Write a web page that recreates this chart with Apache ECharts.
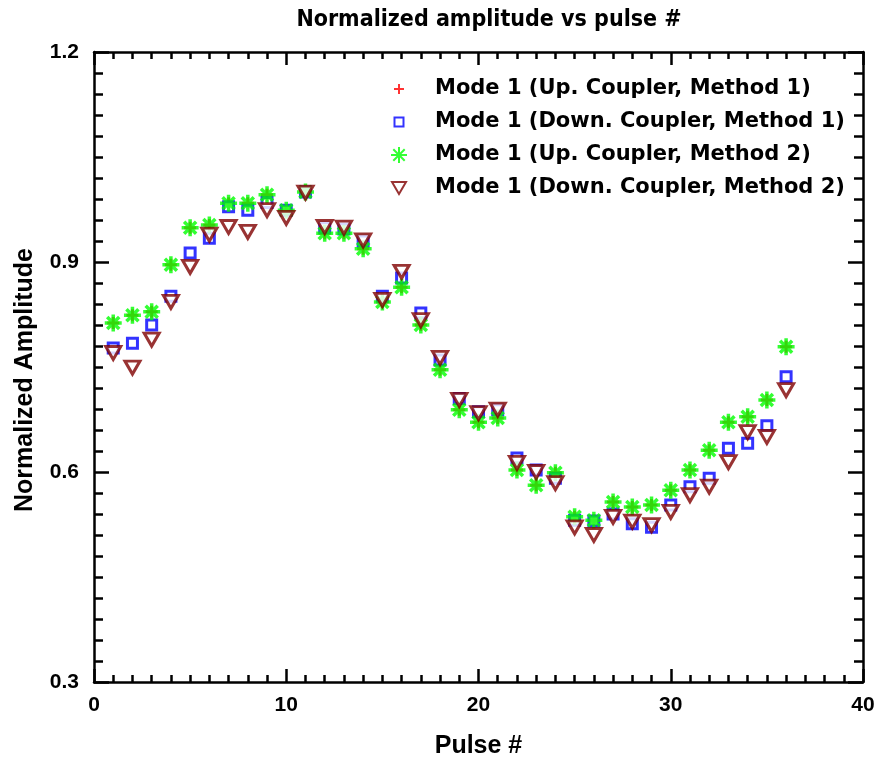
<!DOCTYPE html>
<html>
<head>
<meta charset="utf-8">
<script src="https://cdn.jsdelivr.net/npm/echarts@6/dist/echarts.min.js"></script>
<style>
  html, body { margin: 0; padding: 0; background: #fff; }
  #chart { width: 877px; height: 758px; }
</style>
</head>
<body>
<div id="chart"></div>
<script>
// Pulse numbers
const pulses = [1,2,3,4,5,6,7,8,9,10,11,12,13,14,15,16,17,18,19,20,21,22,23,24,25,26,27,28,29,30,31,32,33,34,35,36];

// Mode 1, upstream coupler, method 1
const upM1 = [0.813,0.824,0.829,0.896,0.949,0.953,0.984,0.984,0.996,0.974,1.000,0.941,0.941,0.919,0.843,0.864,0.810,0.746,0.689,0.671,0.677,0.603,0.581,0.599,0.536,0.531,0.557,0.550,0.553,0.574,0.603,0.631,0.671,0.679,0.703,0.779];
// Mode 1, downstream coupler, method 1
const downM1 = [0.777,0.784,0.810,0.851,0.913,0.934,0.979,0.974,0.985,0.974,1.000,0.949,0.947,0.930,0.851,0.877,0.827,0.760,0.705,0.686,0.689,0.620,0.603,0.591,0.531,0.530,0.540,0.526,0.521,0.553,0.579,0.591,0.634,0.641,0.666,0.736];
// Mode 1, upstream coupler, method 2
const upM2 = [0.813,0.824,0.829,0.896,0.949,0.953,0.984,0.984,0.996,0.974,1.000,0.941,0.941,0.919,0.843,0.864,0.810,0.746,0.689,0.671,0.677,0.603,0.581,0.599,0.536,0.531,0.557,0.550,0.553,0.574,0.603,0.631,0.671,0.679,0.703,0.779];
// Mode 1, downstream coupler, method 2
const downM2 = [0.770,0.749,0.789,0.843,0.893,0.939,0.950,0.943,0.974,0.963,0.999,0.950,0.949,0.931,0.846,0.886,0.817,0.763,0.703,0.684,0.689,0.613,0.600,0.584,0.521,0.510,0.536,0.529,0.524,0.543,0.567,0.579,0.614,0.657,0.650,0.717];

const seriesNames = [
  'Mode 1 (Up. Coupler, Method 1)',
  'Mode 1 (Down. Coupler, Method 1)',
  'Mode 1 (Up. Coupler, Method 2)',
  'Mode 1 (Down. Coupler, Method 2)'
];

const xTicks = { min: 0, max: 40, step: 10 };
const yTicks = { min: 0.3, max: 1.2, step: 0.3 };

const pairs = ys => pulses.map((p, i) => [p, ys[i]]);

// marker shapes
const plusPath = 'path://M0,-10L0,10M-10,0L10,0';
const starPath = 'path://M0,-10L0,10M-10,0L10,0M-7.07,-7.07L7.07,7.07M-7.07,7.07L7.07,-7.07';
const downTriPath = 'path://M0,0L16,0L8,14Z';

// legend icons: the leading moves pad the box so each glyph keeps its own size
const legendIcons = [
  'path://M0,0M16,16M3,8L13,8M8,3L8,13',
  'path://M0,0M16,16M3.5,3.5L12.5,3.5L12.5,12.5L3.5,12.5Z',
  'path://M0,0M16,16M8,0L8,16M0,8L16,8M2.3,2.3L13.7,13.7M2.3,13.7L13.7,2.3',
  'path://M0,0M16,16M1,2L15,2L8,14Z'
];

const tickFont = {
  fontFamily: '"Liberation Sans", Arial, sans-serif',
  fontWeight: 'bold',
  fontSize: 21,
  color: '#000'
};

const nameFont = {
  fontFamily: '"Liberation Sans", Arial, sans-serif',
  fontWeight: 'bold',
  fontSize: 25,
  color: '#000'
};

function axisCommon(showLabels, extra) {
  return Object.assign({
    axisLine: { show: true, onZero: false, lineStyle: { color: '#000', width: 2.5 } },
    axisTick: { show: true, inside: true, length: 13, lineStyle: { color: '#000', width: 2.5 } },
    minorTick: { show: true, splitNumber: 10, length: 7, lineStyle: { color: '#000', width: 2.5 } },
    splitLine: { show: false },
    minorSplitLine: { show: false },
    axisLabel: Object.assign({ show: showLabels }, tickFont)
  }, extra);
}

const yTick = { show: true, inside: true, length: 15, lineStyle: { color: '#000', width: 2.5 } };
const yMinor = { show: true, splitNumber: 10, length: 9, lineStyle: { color: '#000', width: 2.5 } };

const chart = echarts.init(document.getElementById('chart'), null, { renderer: 'canvas' });

chart.setOption({
  animation: false,
  backgroundColor: '#fff',
  title: {
    text: 'Normalized amplitude vs pulse #',
    left: 484,
    textAlign: 'center',
    top: 4,
    textStyle: {
      fontFamily: '"Liberation Sans Narrow", "DejaVu Sans Condensed", "DejaVu Sans", sans-serif',
      fontWeight: 'bold',
      fontSize: 23,
      color: '#000'
    }
  },
  grid: { left: 94, right: 14, top: 52, bottom: 76, containLabel: false, outerBoundsMode: 'none' },
  legend: {
    orient: 'vertical',
    left: 385,
    top: 73,
    itemGap: 11,
    itemWidth: 16,
    itemHeight: 16,
    textStyle: {
      fontFamily: '"DejaVu Sans", sans-serif',
      fontWeight: 'bold',
      fontSize: 21,
      lineHeight: 22,
      color: '#000',
      padding: [0, 0, 0, 23]
    },
    data: seriesNames.map((n, i) => ({ name: n, icon: legendIcons[i] }))
  },
  xAxis: [
    axisCommon(true, {
      type: 'value', position: 'bottom',
      min: xTicks.min, max: xTicks.max, interval: xTicks.step,
      name: 'Pulse #', nameLocation: 'middle', nameGap: 52,
      nameTextStyle: nameFont,
      axisLabel: Object.assign({ show: true, margin: 13 }, tickFont)
    }),
    axisCommon(false, {
      type: 'value', position: 'top',
      min: xTicks.min, max: xTicks.max, interval: xTicks.step
    })
  ],
  yAxis: [
    axisCommon(true, {
      type: 'value', position: 'left',
      min: yTicks.min, max: yTicks.max, interval: yTicks.step,
      name: 'Normalized Amplitude', nameLocation: 'middle', nameGap: 56,
      nameTextStyle: Object.assign({ padding: [0, 26, 0, 0] }, nameFont),
      axisTick: yTick,
      minorTick: yMinor,
      axisLabel: Object.assign({ show: true, margin: 15, formatter: v => v.toFixed(1) }, tickFont)
    }),
    axisCommon(false, {
      type: 'value', position: 'right',
      min: yTicks.min, max: yTicks.max, interval: yTicks.step,
      axisTick: yTick,
      minorTick: yMinor
    })
  ],
  series: [
    {
      name: seriesNames[0], type: 'scatter', silent: true,
      data: pairs(upM1),
      symbol: plusPath, symbolSize: 12,
      itemStyle: { color: '#ff0000', borderColor: '#ff0000', borderWidth: 3 }
    },
    {
      name: seriesNames[1], type: 'scatter', silent: true,
      data: pairs(downM1),
      symbol: 'rect', symbolSize: 10,
      itemStyle: { color: '#ffffff', borderColor: '#0000ff', borderWidth: 3 }
    },
    {
      name: seriesNames[2], type: 'scatter', silent: true,
      data: pairs(upM2),
      symbol: starPath, symbolSize: 17,
      itemStyle: { color: '#00ff00', borderColor: '#00ff00', borderWidth: 3.5 }
    },
    {
      name: seriesNames[3], type: 'scatter', silent: true,
      data: pairs(downM2),
      symbol: downTriPath, symbolSize: [15, 13],
      itemStyle: { color: '#ffffff', borderColor: '#800000', borderWidth: 3 }
    }
  ]
});
</script>
</body>
</html>
